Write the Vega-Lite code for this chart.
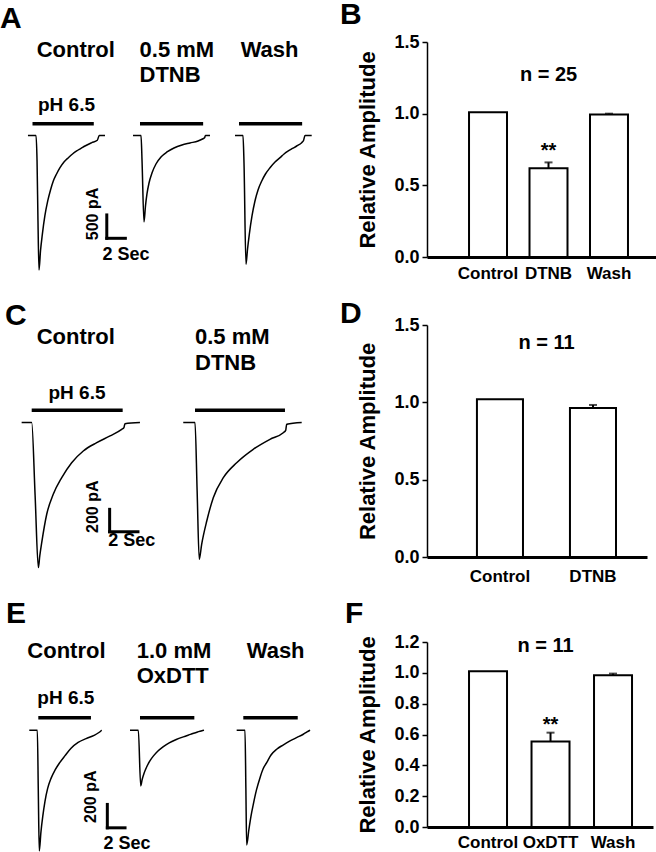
{
"$schema": "https://vega.github.io/schema/vega-lite/v6.json",
"background": "white",
"padding": 0,
"columns": 4,
"align": "each",
"bounds": "flush",
"spacing": {"row": 68, "column": 0},
"datasets": {
"traces": [
{"p":"A","c":"Control","t":-0.49,"i":0},{"p":"A","c":"Control","t":0.38,"i":0},{"p":"A","c":"Control","t":0.49,"i":-545},{"p":"A","c":"Control","t":0.59,"i":-1830},{"p":"A","c":"Control","t":0.70,"i":-2878},{"p":"A","c":"Control","t":0.86,"i":-2471},{"p":"A","c":"Control","t":1.06,"i":-2114},{"p":"A","c":"Control","t":1.33,"i":-1722},{"p":"A","c":"Control","t":1.64,"i":-1401},{"p":"A","c":"Control","t":1.94,"i":-1166},{"p":"A","c":"Control","t":2.24,"i":-973},{"p":"A","c":"Control","t":2.59,"i":-824},{"p":"A","c":"Control","t":2.96,"i":-689},{"p":"A","c":"Control","t":3.39,"i":-567},{"p":"A","c":"Control","t":3.86,"i":-475},{"p":"A","c":"Control","t":4.31,"i":-396},{"p":"A","c":"Control","t":4.76,"i":-332},{"p":"A","c":"Control","t":5.22,"i":-278},{"p":"A","c":"Control","t":5.65,"i":-225},{"p":"A","c":"Control","t":6.38,"i":-154},{"p":"A","c":"Control","t":6.98,"i":-103},{"p":"A","c":"Control","t":7.19,"i":0},{"p":"A","c":"Control","t":7.81,"i":0},
{"p":"A","c":"DTNB","t":-0.75,"i":0},{"p":"A","c":"DTNB","t":0.11,"i":0},{"p":"A","c":"DTNB","t":0.22,"i":-545},{"p":"A","c":"DTNB","t":0.43,"i":-1851},{"p":"A","c":"DTNB","t":0.59,"i":-1508},{"p":"A","c":"DTNB","t":0.75,"i":-1251},{"p":"A","c":"DTNB","t":0.97,"i":-1016},{"p":"A","c":"DTNB","t":1.29,"i":-802},{"p":"A","c":"DTNB","t":1.72,"i":-610},{"p":"A","c":"DTNB","t":2.26,"i":-460},{"p":"A","c":"DTNB","t":2.91,"i":-353},{"p":"A","c":"DTNB","t":3.66,"i":-267},{"p":"A","c":"DTNB","t":4.52,"i":-203},{"p":"A","c":"DTNB","t":5.39,"i":-160},{"p":"A","c":"DTNB","t":6.25,"i":-118},{"p":"A","c":"DTNB","t":6.79,"i":-70},{"p":"A","c":"DTNB","t":6.95,"i":-50},{"p":"A","c":"DTNB","t":7.05,"i":0},{"p":"A","c":"DTNB","t":7.54,"i":0},
{"p":"A","c":"Wash","t":-0.43,"i":0},{"p":"A","c":"Wash","t":0.43,"i":0},{"p":"A","c":"Wash","t":0.54,"i":-600},{"p":"A","c":"Wash","t":0.75,"i":-2756},{"p":"A","c":"Wash","t":0.92,"i":-2429},{"p":"A","c":"Wash","t":1.11,"i":-2114},{"p":"A","c":"Wash","t":1.40,"i":-1722},{"p":"A","c":"Wash","t":1.72,"i":-1401},{"p":"A","c":"Wash","t":2.05,"i":-1166},{"p":"A","c":"Wash","t":2.45,"i":-973},{"p":"A","c":"Wash","t":2.85,"i":-824},{"p":"A","c":"Wash","t":3.34,"i":-689},{"p":"A","c":"Wash","t":3.88,"i":-567},{"p":"A","c":"Wash","t":4.42,"i":-475},{"p":"A","c":"Wash","t":4.85,"i":-396},{"p":"A","c":"Wash","t":5.31,"i":-332},{"p":"A","c":"Wash","t":5.76,"i":-278},{"p":"A","c":"Wash","t":6.21,"i":-225},{"p":"A","c":"Wash","t":6.75,"i":-154},{"p":"A","c":"Wash","t":6.95,"i":-107},{"p":"A","c":"Wash","t":7.11,"i":0},{"p":"A","c":"Wash","t":7.83,"i":0},
{"p":"C","c":"Control","t":-0.71,"i":0},{"p":"C","c":"Control","t":0.0,"i":0},{"p":"C","c":"Control","t":0.24,"i":-650},{"p":"C","c":"Control","t":0.47,"i":-1295},{"p":"C","c":"Control","t":0.57,"i":-1191},{"p":"C","c":"Control","t":0.71,"i":-1070},{"p":"C","c":"Control","t":1.06,"i":-819},{"p":"C","c":"Control","t":1.52,"i":-641},{"p":"C","c":"Control","t":2.12,"i":-492},{"p":"C","c":"Control","t":2.82,"i":-359},{"p":"C","c":"Control","t":3.64,"i":-254},{"p":"C","c":"Control","t":4.59,"i":-180},{"p":"C","c":"Control","t":5.53,"i":-120},{"p":"C","c":"Control","t":6.35,"i":-61},{"p":"C","c":"Control","t":6.51,"i":-45},{"p":"C","c":"Control","t":6.58,"i":-11},{"p":"C","c":"Control","t":7.64,"i":0},
{"p":"C","c":"DTNB","t":-0.83,"i":0},{"p":"C","c":"DTNB","t":0.0,"i":0},{"p":"C","c":"DTNB","t":0.15,"i":-610},{"p":"C","c":"DTNB","t":0.30,"i":-1221},{"p":"C","c":"DTNB","t":0.47,"i":-1087},{"p":"C","c":"DTNB","t":0.83,"i":-879},{"p":"C","c":"DTNB","t":1.29,"i":-671},{"p":"C","c":"DTNB","t":2.00,"i":-492},{"p":"C","c":"DTNB","t":2.94,"i":-359},{"p":"C","c":"DTNB","t":4.11,"i":-239},{"p":"C","c":"DTNB","t":5.29,"i":-150},{"p":"C","c":"DTNB","t":6.23,"i":-91},{"p":"C","c":"DTNB","t":6.40,"i":-70},{"p":"C","c":"DTNB","t":6.47,"i":-16},{"p":"C","c":"DTNB","t":7.53,"i":0},
{"p":"E","c":"Control","t":-1.02,"i":0},{"p":"E","c":"Control","t":-0.11,"i":0},{"p":"E","c":"Control","t":0.0,"i":-520},{"p":"E","c":"Control","t":0.11,"i":-1033},{"p":"E","c":"Control","t":0.30,"i":-870},{"p":"E","c":"Control","t":0.50,"i":-740},{"p":"E","c":"Control","t":0.75,"i":-610},{"p":"E","c":"Control","t":1.05,"i":-500},{"p":"E","c":"Control","t":1.45,"i":-410},{"p":"E","c":"Control","t":1.90,"i":-340},{"p":"E","c":"Control","t":2.40,"i":-280},{"p":"E","c":"Control","t":3.00,"i":-220},{"p":"E","c":"Control","t":3.70,"i":-155},{"p":"E","c":"Control","t":4.50,"i":-105},{"p":"E","c":"Control","t":5.40,"i":-72},{"p":"E","c":"Control","t":6.30,"i":-45},{"p":"E","c":"Control","t":6.85,"i":-20},{"p":"E","c":"Control","t":7.16,"i":0},
{"p":"E","c":"OxDTT","t":-1.13,"i":0},{"p":"E","c":"OxDTT","t":-0.19,"i":0},{"p":"E","c":"OxDTT","t":0.08,"i":-477},{"p":"E","c":"OxDTT","t":0.25,"i":-420},{"p":"E","c":"OxDTT","t":0.45,"i":-370},{"p":"E","c":"OxDTT","t":0.75,"i":-315},{"p":"E","c":"OxDTT","t":1.10,"i":-265},{"p":"E","c":"OxDTT","t":1.50,"i":-222},{"p":"E","c":"OxDTT","t":2.00,"i":-180},{"p":"E","c":"OxDTT","t":2.60,"i":-142},{"p":"E","c":"OxDTT","t":3.30,"i":-108},{"p":"E","c":"OxDTT","t":4.10,"i":-80},{"p":"E","c":"OxDTT","t":4.90,"i":-57},{"p":"E","c":"OxDTT","t":5.70,"i":-36},{"p":"E","c":"OxDTT","t":6.50,"i":-15},{"p":"E","c":"OxDTT","t":7.00,"i":-5},{"p":"E","c":"OxDTT","t":7.23,"i":0},
{"p":"E","c":"Wash","t":-0.75,"i":0},{"p":"E","c":"Wash","t":0.19,"i":0},{"p":"E","c":"Wash","t":0.29,"i":-490},{"p":"E","c":"Wash","t":0.38,"i":-982},{"p":"E","c":"Wash","t":0.64,"i":-845},{"p":"E","c":"Wash","t":0.87,"i":-734},{"p":"E","c":"Wash","t":1.13,"i":-634},{"p":"E","c":"Wash","t":1.49,"i":-511},{"p":"E","c":"Wash","t":1.89,"i":-406},{"p":"E","c":"Wash","t":2.23,"i":-332},{"p":"E","c":"Wash","t":2.64,"i":-278},{"p":"E","c":"Wash","t":3.13,"i":-212},{"p":"E","c":"Wash","t":3.77,"i":-163},{"p":"E","c":"Wash","t":4.49,"i":-127},{"p":"E","c":"Wash","t":5.28,"i":-92},{"p":"E","c":"Wash","t":6.07,"i":-62},{"p":"E","c":"Wash","t":6.78,"i":-35},{"p":"E","c":"Wash","t":7.20,"i":-15},{"p":"E","c":"Wash","t":7.54,"i":0}
],
"events": [
{"p":"A","c":"Control","label":"Control","start":0,"end":6.6,"sol":"pH 6.5"},
{"p":"A","c":"DTNB","label":"0.5 mM\nDTNB","start":0,"end":6.8},
{"p":"A","c":"Wash","label":"Wash","start":0,"end":6.8},
{"p":"C","c":"Control","label":"Control","start":0,"end":6.42,"sol":"pH 6.5"},
{"p":"C","c":"DTNB","label":"0.5 mM\nDTNB","start":0,"end":6.35},
{"p":"E","c":"Control","label":"Control","start":0,"end":5.95,"sol":"pH 6.5"},
{"p":"E","c":"OxDTT","label":"1.0 mM\nOxDTT","start":0,"end":6.14},
{"p":"E","c":"Wash","label":"Wash","start":0,"end":6.15}
],
"bars": [
{"p":"B","c":"Control","m":1.01},
{"p":"B","c":"DTNB","m":0.62,"hi":0.66,"sig":"**"},
{"p":"B","c":"Wash","m":0.995,"hi":1.0},
{"p":"D","c":"Control","m":1.02},
{"p":"D","c":"DTNB","m":0.963,"hi":0.983},
{"p":"F","c":"Control","m":1.01},
{"p":"F","c":"OxDTT","m":0.555,"hi":0.612,"sig":"**"},
{"p":"F","c":"Wash","m":0.984,"hi":0.995}
]
},
"concat": [
{
 "width": 130, "height": 215,
 "title": {"text": "A", "offset": 5},
 "layer": [
  {"data": {"name": "traces"}, "transform": [{"filter": "datum.p=='A' && datum.c=='Control'"}],
   "mark": {"type": "line", "color": "black", "strokeWidth": 1.5, "interpolate": "monotone"},
   "encoding": {"x": {"field": "t", "type": "quantitative", "scale": {"domain": [-3.5, 10.5], "nice": false, "zero": false}, "axis": null},
                "y": {"field": "i", "type": "quantitative", "scale": {"domain": [-2600, 2000], "nice": false, "zero": false}, "axis": null}}},
  {"data": {"name": "events"}, "transform": [{"filter": "datum.p=='A' && datum.c=='Control'"}],
   "layer": [
    {"mark": {"type": "rule", "color": "black", "strokeWidth": 3.5}, "encoding": {"x": {"field": "start", "type": "quantitative", "axis": null}, "x2": {"field": "end"}, "y": {"datum": 250, "axis": null}}},
    {"mark": {"type": "text", "align": "left", "baseline": "alphabetic", "fontSize": 22, "lineBreak": "\n", "lineHeight": 25}, "encoding": {"x": {"datum": 0.45, "axis": null}, "y": {"datum": 1680, "axis": null}, "text": {"field": "label"}}},
    {"mark": {"type": "text", "align": "center", "baseline": "alphabetic", "fontSize": 19}, "encoding": {"x": {"datum": 3.66, "axis": null}, "y": {"datum": 520, "axis": null}, "text": {"field": "sol"}}},
    {"mark": {"type": "rule", "color": "black", "strokeWidth": 3, "strokeCap": "square"}, "encoding": {"x": {"datum": 8, "axis": null}, "y": {"datum": -2200, "axis": null}, "y2": {"datum": -1700}}},
    {"mark": {"type": "rule", "color": "black", "strokeWidth": 3, "strokeCap": "square"}, "encoding": {"x": {"datum": 8, "axis": null}, "x2": {"datum": 10}, "y": {"datum": -2200, "axis": null}}},
    {"mark": {"type": "text", "angle": 270, "align": "center", "baseline": "middle", "fontSize": 16}, "encoding": {"x": {"datum": 6.52, "axis": null}, "y": {"datum": -1680, "axis": null}, "text": {"value": "500 pA"}}},
    {"mark": {"type": "text", "align": "center", "baseline": "alphabetic", "fontSize": 18}, "encoding": {"x": {"datum": 10.07, "axis": null}, "y": {"datum": -2660, "axis": null}, "text": {"value": "2 Sec"}}}
   ]}
 ]
},
{
 "width": 104, "height": 215,
 "layer": [
  {"data": {"name": "traces"}, "transform": [{"filter": "datum.p=='A' && datum.c=='DTNB'"}],
   "mark": {"type": "line", "color": "black", "strokeWidth": 1.5, "interpolate": "monotone"},
   "encoding": {"x": {"field": "t", "type": "quantitative", "scale": {"domain": [-1.0769, 10.1231], "nice": false, "zero": false}, "axis": null},
                "y": {"field": "i", "type": "quantitative", "scale": {"domain": [-2600, 2000], "nice": false, "zero": false}, "axis": null}}},
  {"data": {"name": "events"}, "transform": [{"filter": "datum.p=='A' && datum.c=='DTNB'"}],
   "layer": [
    {"mark": {"type": "rule", "color": "black", "strokeWidth": 3.5}, "encoding": {"x": {"field": "start", "type": "quantitative", "axis": null}, "x2": {"field": "end"}, "y": {"datum": 250, "axis": null}}},
    {"mark": {"type": "text", "align": "left", "baseline": "alphabetic", "fontSize": 22, "lineBreak": "\n", "lineHeight": 25}, "encoding": {"x": {"datum": -0.05, "axis": null}, "y": {"datum": 1680, "axis": null}, "text": {"field": "label"}}}
   ]}
 ]
},
{
 "width": 193, "height": 215,
 "layer": [
  {"data": {"name": "traces"}, "transform": [{"filter": "datum.p=='A' && datum.c=='Wash'"}],
   "mark": {"type": "line", "color": "black", "strokeWidth": 1.5, "interpolate": "monotone"},
   "encoding": {"x": {"field": "t", "type": "quantitative", "scale": {"domain": [-0.5385, 20.2462], "nice": false, "zero": false}, "axis": null},
                "y": {"field": "i", "type": "quantitative", "scale": {"domain": [-2600, 2000], "nice": false, "zero": false}, "axis": null}}},
  {"data": {"name": "events"}, "transform": [{"filter": "datum.p=='A' && datum.c=='Wash'"}],
   "layer": [
    {"mark": {"type": "rule", "color": "black", "strokeWidth": 3.5}, "encoding": {"x": {"field": "start", "type": "quantitative", "axis": null}, "x2": {"field": "end"}, "y": {"datum": 250, "axis": null}}},
    {"mark": {"type": "text", "align": "left", "baseline": "alphabetic", "fontSize": 22, "lineBreak": "\n", "lineHeight": 25}, "encoding": {"x": {"datum": 0.18, "axis": null}, "y": {"datum": 1680, "axis": null}, "text": {"field": "label"}}}
   ]}
 ]
},
{
 "width": 229, "height": 215,
 "title": {"text": "B", "dx": -87, "offset": 3},
 "data": {"name": "bars"},
 "transform": [{"filter": "datum.p=='B'"}],
 "encoding": {"x": {"field": "c", "type": "nominal", "sort": ["Control", "DTNB", "Wash"], "scale": {"paddingInner": 0.372, "paddingOuter": 0.579, "align": 0.6}, "axis": {"title": null, "labelAngle": 0, "labelPadding": 8}}},
 "layer": [
  {"mark": {"type": "bar", "fill": "white", "stroke": "black", "strokeWidth": 2}, "encoding": {"y": {"field": "m", "type": "quantitative", "scale": {"domain": [0, 1.5], "nice": false}, "axis": {"title": "Relative Amplitude", "values": [0, 0.5, 1, 1.5], "format": ".1f", "labelOverlap": false}}}},
  {"transform": [{"filter": "datum.hi > datum.m"}], "mark": {"type": "rule", "color": "black", "strokeWidth": 2}, "encoding": {"y": {"field": "m", "type": "quantitative"}, "y2": {"field": "hi"}}},
  {"transform": [{"filter": "datum.hi > datum.m"}], "mark": {"type": "tick", "color": "black", "thickness": 2, "size": 8}, "encoding": {"y": {"field": "hi", "type": "quantitative"}}},
  {"transform": [{"filter": "datum.sig != null"}], "mark": {"type": "text", "fontSize": 20, "baseline": "alphabetic", "dy": -5}, "encoding": {"y": {"field": "hi", "type": "quantitative"}, "text": {"field": "sig"}}},
  {"transform": [{"filter": "datum.c=='DTNB'"}], "mark": {"type": "text", "fontSize": 20, "baseline": "alphabetic"}, "encoding": {"y": {"datum": 1.228}, "text": {"value": "n = 25"}}}
 ]
},
{
 "width": 130, "height": 249,
 "title": {"text": "C", "offset": -6, "dx": 5},
 "layer": [
  {"data": {"name": "traces"}, "transform": [{"filter": "datum.p=='C' && datum.c=='Control'"}],
   "mark": {"type": "line", "color": "black", "strokeWidth": 1.5, "interpolate": "monotone"},
   "encoding": {"x": {"field": "t", "type": "quantitative", "scale": {"domain": [-2.2371, 6.9372], "nice": false, "zero": false}, "axis": null},
                "y": {"field": "i", "type": "quantitative", "scale": {"domain": [-1352, 870], "nice": false, "zero": false}, "axis": null}}},
  {"data": {"name": "events"}, "transform": [{"filter": "datum.p=='C' && datum.c=='Control'"}],
   "layer": [
    {"mark": {"type": "rule", "color": "black", "strokeWidth": 3.5}, "encoding": {"x": {"field": "start", "type": "quantitative", "axis": null}, "x2": {"field": "end"}, "y": {"datum": 110, "axis": null}}},
    {"mark": {"type": "text", "align": "left", "baseline": "alphabetic", "fontSize": 22, "lineBreak": "\n", "lineHeight": 26}, "encoding": {"x": {"datum": 0.353, "axis": null}, "y": {"datum": 700, "axis": null}, "text": {"field": "label"}}},
    {"mark": {"type": "text", "align": "center", "baseline": "alphabetic", "fontSize": 19}, "encoding": {"x": {"datum": 3.197, "axis": null}, "y": {"datum": 210, "axis": null}, "text": {"field": "sol"}}},
    {"mark": {"type": "rule", "color": "black", "strokeWidth": 3, "strokeCap": "square"}, "encoding": {"x": {"datum": 5.5, "axis": null}, "y": {"datum": -975, "axis": null}, "y2": {"datum": -775}}},
    {"mark": {"type": "rule", "color": "black", "strokeWidth": 3, "strokeCap": "square"}, "encoding": {"x": {"datum": 5.5, "axis": null}, "x2": {"datum": 7.5}, "y": {"datum": -975, "axis": null}}},
    {"mark": {"type": "text", "angle": 270, "align": "center", "baseline": "middle", "fontSize": 16}, "encoding": {"x": {"datum": 4.347, "axis": null}, "y": {"datum": -752, "axis": null}, "text": {"value": "200 pA"}}},
    {"mark": {"type": "text", "align": "center", "baseline": "alphabetic", "fontSize": 18}, "encoding": {"x": {"datum": 7.057, "axis": null}, "y": {"datum": -1102, "axis": null}, "text": {"value": "2 Sec"}}}
   ]}
 ]
},
{
 "width": 104, "height": 249,
 "layer": [
  {"data": {"name": "traces"}, "transform": [{"filter": "datum.p=='C' && datum.c=='DTNB'"}],
   "mark": {"type": "line", "color": "black", "strokeWidth": 1.5, "interpolate": "monotone"},
   "encoding": {"x": {"field": "t", "type": "quantitative", "scale": {"domain": [-4.5872, 2.7523], "nice": false, "zero": false}, "axis": null},
                "y": {"field": "i", "type": "quantitative", "scale": {"domain": [-1352, 870], "nice": false, "zero": false}, "axis": null}}},
  {"data": {"name": "events"}, "transform": [{"filter": "datum.p=='C' && datum.c=='DTNB'"}],
   "layer": [
    {"mark": {"type": "rule", "color": "black", "strokeWidth": 3.5}, "encoding": {"x": {"field": "start", "type": "quantitative", "axis": null}, "x2": {"field": "end"}, "y": {"datum": 110, "axis": null}}},
    {"mark": {"type": "text", "align": "left", "baseline": "alphabetic", "fontSize": 22, "lineBreak": "\n", "lineHeight": 26}, "encoding": {"x": {"datum": 0.0, "axis": null}, "y": {"datum": 700, "axis": null}, "text": {"field": "label"}}}
   ]}
 ]
},
{
 "width": 193, "height": 249,
 "data": {"values": []},
 "mark": "point"
},
{
 "width": 220, "height": 232,
 "title": {"text": "D", "dx": -87, "offset": -13},
 "data": {"name": "bars"},
 "transform": [{"filter": "datum.p=='D'"}],
 "encoding": {"x": {"field": "c", "type": "nominal", "sort": ["Control", "DTNB"], "scale": {"paddingInner": 0.505, "paddingOuter": 0.435, "align": 0.617}, "axis": {"title": null, "labelAngle": 0, "labelPadding": 11}}},
 "layer": [
  {"mark": {"type": "bar", "fill": "white", "stroke": "black", "strokeWidth": 2}, "encoding": {"y": {"field": "m", "type": "quantitative", "scale": {"domain": [0, 1.5], "nice": false}, "axis": {"title": "Relative Amplitude", "values": [0, 0.5, 1, 1.5], "format": ".1f", "labelOverlap": false}}}},
  {"transform": [{"filter": "datum.hi > datum.m"}], "mark": {"type": "rule", "color": "black", "strokeWidth": 2}, "encoding": {"y": {"field": "m", "type": "quantitative"}, "y2": {"field": "hi"}}},
  {"transform": [{"filter": "datum.hi > datum.m"}], "mark": {"type": "tick", "color": "black", "thickness": 2, "size": 8}, "encoding": {"y": {"field": "hi", "type": "quantitative"}}},
  {"transform": [{"filter": "datum.c=='Control'"}], "mark": {"type": "text", "fontSize": 20, "baseline": "alphabetic", "dx": 46.5}, "encoding": {"y": {"datum": 1.343}, "text": {"value": "n = 11"}}}
 ]
},
{
 "width": 130, "height": 185,
 "title": {"text": "E", "offset": 11, "dx": 6},
 "layer": [
  {"data": {"name": "traces"}, "transform": [{"filter": "datum.p=='E' && datum.c=='Control'"}],
   "mark": {"type": "line", "color": "black", "strokeWidth": 1.5, "interpolate": "monotone"},
   "encoding": {"x": {"field": "t", "type": "quantitative", "scale": {"domain": [-4.3277, 10.3616], "nice": false, "zero": false}, "axis": null},
                "y": {"field": "i", "type": "quantitative", "scale": {"domain": [-828, 754], "nice": false, "zero": false}, "axis": null}}},
  {"data": {"name": "events"}, "transform": [{"filter": "datum.p=='E' && datum.c=='Control'"}],
   "layer": [
    {"mark": {"type": "rule", "color": "black", "strokeWidth": 3.5}, "encoding": {"x": {"field": "start", "type": "quantitative", "axis": null}, "x2": {"field": "end"}, "y": {"datum": 107, "axis": null}}},
    {"mark": {"type": "text", "align": "left", "baseline": "alphabetic", "fontSize": 22, "lineBreak": "\n", "lineHeight": 25}, "encoding": {"x": {"datum": -1.243, "axis": null}, "y": {"datum": 615, "axis": null}, "text": {"field": "label"}}},
    {"mark": {"type": "text", "align": "center", "baseline": "alphabetic", "fontSize": 19}, "encoding": {"x": {"datum": 3.107, "axis": null}, "y": {"datum": 221, "axis": null}, "text": {"field": "sol"}}},
    {"mark": {"type": "rule", "color": "black", "strokeWidth": 3, "strokeCap": "square"}, "encoding": {"x": {"datum": 7.8, "axis": null}, "y": {"datum": -835, "axis": null}, "y2": {"datum": -635}}},
    {"mark": {"type": "rule", "color": "black", "strokeWidth": 3, "strokeCap": "square"}, "encoding": {"x": {"datum": 7.8, "axis": null}, "x2": {"datum": 9.8}, "y": {"datum": -835, "axis": null}}},
    {"mark": {"type": "text", "angle": 270, "align": "center", "baseline": "middle", "fontSize": 16}, "encoding": {"x": {"datum": 5.921, "axis": null}, "y": {"datum": -569, "axis": null}, "text": {"value": "200 pA"}}},
    {"mark": {"type": "text", "align": "center", "baseline": "alphabetic", "fontSize": 18}, "encoding": {"x": {"datum": 10.02, "axis": null}, "y": {"datum": -1018, "axis": null}, "text": {"value": "2 Sec"}}}
   ]}
 ]
},
{
 "width": 104, "height": 185,
 "layer": [
  {"data": {"name": "traces"}, "transform": [{"filter": "datum.p=='E' && datum.c=='OxDTT'"}],
   "mark": {"type": "line", "color": "black", "strokeWidth": 1.5, "interpolate": "monotone"},
   "encoding": {"x": {"field": "t", "type": "quantitative", "scale": {"domain": [-1.1299, 10.6215], "nice": false, "zero": false}, "axis": null},
                "y": {"field": "i", "type": "quantitative", "scale": {"domain": [-828, 754], "nice": false, "zero": false}, "axis": null}}},
  {"data": {"name": "events"}, "transform": [{"filter": "datum.p=='E' && datum.c=='OxDTT'"}],
   "layer": [
    {"mark": {"type": "rule", "color": "black", "strokeWidth": 3.5}, "encoding": {"x": {"field": "start", "type": "quantitative", "axis": null}, "x2": {"field": "end"}, "y": {"datum": 107, "axis": null}}},
    {"mark": {"type": "text", "align": "left", "baseline": "alphabetic", "fontSize": 22, "lineBreak": "\n", "lineHeight": 25}, "encoding": {"x": {"datum": -0.373, "axis": null}, "y": {"datum": 615, "axis": null}, "text": {"field": "label"}}}
   ]}
 ]
},
{
 "width": 193, "height": 185,
 "layer": [
  {"data": {"name": "traces"}, "transform": [{"filter": "datum.p=='E' && datum.c=='Wash'"}],
   "mark": {"type": "line", "color": "black", "strokeWidth": 1.5, "interpolate": "monotone"},
   "encoding": {"x": {"field": "t", "type": "quantitative", "scale": {"domain": [-1.0508, 20.7571], "nice": false, "zero": false}, "axis": null},
                "y": {"field": "i", "type": "quantitative", "scale": {"domain": [-828, 754], "nice": false, "zero": false}, "axis": null}}},
  {"data": {"name": "events"}, "transform": [{"filter": "datum.p=='E' && datum.c=='Wash'"}],
   "layer": [
    {"mark": {"type": "rule", "color": "black", "strokeWidth": 3.5}, "encoding": {"x": {"field": "start", "type": "quantitative", "axis": null}, "x2": {"field": "end"}, "y": {"datum": 107, "axis": null}}},
    {"mark": {"type": "text", "align": "left", "baseline": "alphabetic", "fontSize": 22, "lineBreak": "\n", "lineHeight": 25}, "encoding": {"x": {"datum": 0.384, "axis": null}, "y": {"datum": 615, "axis": null}, "text": {"field": "label"}}}
   ]}
 ]
},
{
 "width": 226, "height": 185,
 "title": {"text": "F", "dx": -82, "offset": 4},
 "data": {"name": "bars"},
 "transform": [{"filter": "datum.p=='F'"}],
 "encoding": {"x": {"field": "c", "type": "nominal", "sort": ["Control", "OxDTT", "Wash"], "scale": {"paddingInner": 0.392, "paddingOuter": 0.504, "align": 0.667}, "axis": {"title": null, "labelAngle": 0, "labelPadding": 7}}},
 "layer": [
  {"mark": {"type": "bar", "fill": "white", "stroke": "black", "strokeWidth": 2}, "encoding": {"y": {"field": "m", "type": "quantitative", "scale": {"domain": [0, 1.2], "nice": false}, "axis": {"title": "Relative Amplitude", "values": [0, 0.2, 0.4, 0.6, 0.8, 1, 1.2], "format": ".1f", "labelOverlap": false, "tickCount": 7}}}},
  {"transform": [{"filter": "datum.hi > datum.m"}], "mark": {"type": "rule", "color": "black", "strokeWidth": 2}, "encoding": {"y": {"field": "m", "type": "quantitative"}, "y2": {"field": "hi"}}},
  {"transform": [{"filter": "datum.hi > datum.m"}], "mark": {"type": "tick", "color": "black", "thickness": 2, "size": 8}, "encoding": {"y": {"field": "hi", "type": "quantitative"}}},
  {"transform": [{"filter": "datum.sig != null"}], "mark": {"type": "text", "fontSize": 20, "baseline": "alphabetic", "dy": -2}, "encoding": {"y": {"field": "hi", "type": "quantitative"}, "text": {"field": "sig"}}},
  {"transform": [{"filter": "datum.c=='OxDTT'"}], "mark": {"type": "text", "fontSize": 20, "baseline": "alphabetic", "dx": -5}, "encoding": {"y": {"datum": 1.137}, "text": {"value": "n = 11"}}}
 ]
}
],
"config": {
 "view": {"stroke": null},
 "font": "Liberation Sans",
 "title": {"fontSize": 30, "fontWeight": "bold", "font": "Liberation Sans", "color": "black", "anchor": "start", "frame": "group"},
 "axis": {"domainColor": "black", "tickColor": "black", "labelColor": "black", "titleColor": "black", "labelFont": "Liberation Sans", "titleFont": "Liberation Sans", "labelFontWeight": "bold", "titleFontWeight": "bold", "grid": false, "labelOverlap": false},
 "axisY": {"labelFontSize": 18, "tickSize": 5, "tickWidth": 1.5, "domainWidth": 1.5, "labelPadding": 3, "titleFontSize": 22, "titlePadding": 14},
 "axisX": {"labelFontSize": 17, "domainWidth": 3, "ticks": false},
 "text": {"font": "Liberation Sans", "fontWeight": "bold", "color": "black"}
}
}
